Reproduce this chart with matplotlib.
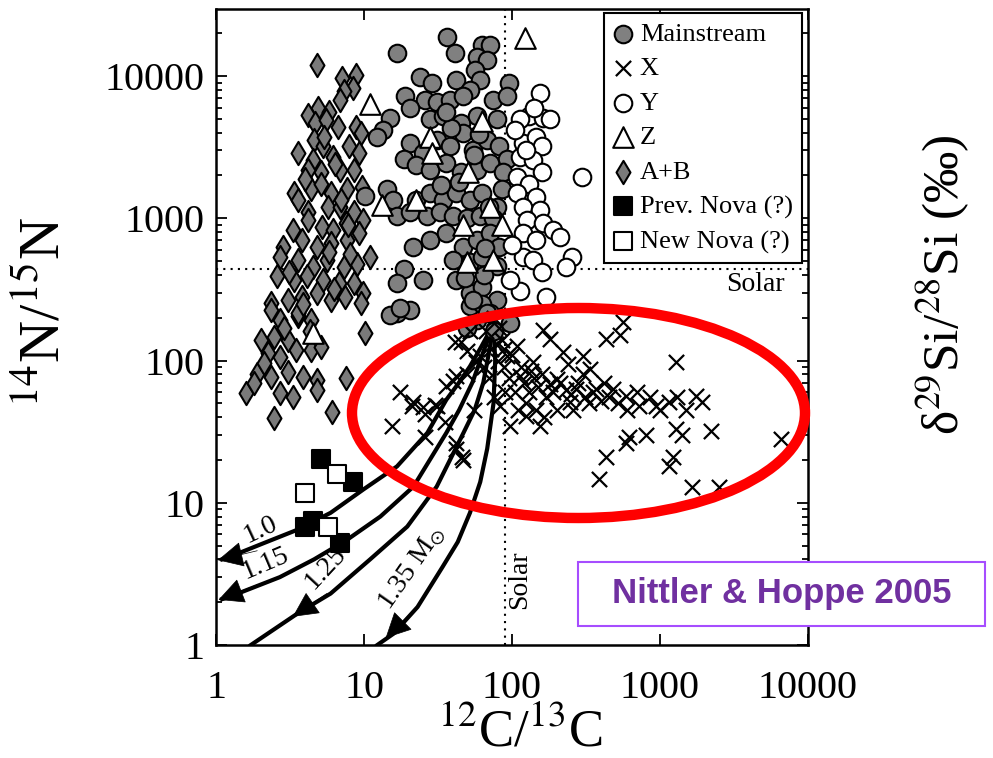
import matplotlib
matplotlib.use("Agg")
import matplotlib.pyplot as plt
from matplotlib.patches import Ellipse, Rectangle

plt.rcParams["font.family"] = ["Liberation Serif", "DejaVu Serif"]
plt.rcParams["mathtext.fontset"] = "stix"

# ---- data (12C/13C, 14N/15N) ----
MAIN_X = [36.3, 16.7, 41, 63, 71, 58, 68, 56, 24, 29, 42, 61, 52, 96, 19, 26, 20.5, 31, 38, 47,
          74, 92, 15, 13.5, 12.3, 28, 34, 45, 58, 79, 20.5, 25, 31, 38, 47, 54.5, 68, 82, 92, 18.5,
          22.6, 28, 36, 45, 58, 71, 87, 10.2, 14.3, 15.8, 22.6, 28, 34, 42, 52, 63, 79, 16.7, 20.5, 26.5,
          32.5, 40, 50, 61, 74, 21.5, 28, 36, 47, 58, 71, 82, 40, 52, 63, 79, 18.5, 16.7, 25, 42,
          52, 63, 58, 79, 71, 16.7, 20.5, 58, 15, 17.6, 52, 63, 97, 68, 54.5, 65, 75, 50,
          44, 55, 66, 39, 33, 60, 70, 85, 48, 36]
MAIN_Y = [18800, 14500, 14500, 16500, 16500, 13500, 13000, 11000, 9900, 9000, 9400, 9400, 8000, 9000, 7200, 6800, 6000, 6600, 6800, 7200,
          6800, 7200, 5100, 4200, 3700, 5000, 5200, 4700, 5200, 5000, 3400, 2900, 3550, 3200, 4000, 3000, 3550, 3200, 2600, 2600,
          2350, 2200, 2450, 2100, 2200, 2450, 2100, 1430, 1600, 1350, 1350, 1500, 1350, 1500, 1350, 1500, 1200, 1030, 1100, 1030,
          1100, 1030, 1000, 1030, 1000, 630, 700, 790, 630, 700, 790, 630, 510, 490, 530, 460, 440, 350, 370, 370,
          300, 330, 250, 265, 215, 215, 225, 193, 210, 235, 240, 250, 183, 215, 265, 400, 160, 170,
          1800, 2800, 620, 4300, 1700, 3900, 1200, 1600, 380, 5600]

Y_X = [154, 295, 131, 161, 180, 113, 119, 146, 160, 113, 139, 160, 108, 131, 146, 108, 119, 154, 126, 161,
       190, 119, 146, 210, 119, 139, 256, 232, 160, 113, 170, 97, 105, 125, 140, 100]
Y_Y = [7600, 1950, 5200, 5100, 5000, 5000, 3400, 3750, 3200, 2700, 2550, 2100, 1950, 1750, 1400, 1500, 1200, 1150, 980, 930,
       830, 790, 700, 740, 530, 510, 530, 455, 420, 310, 280, 370, 4200, 3000, 6000, 650]

Z_X = [122, 11, 13.3, 63, 28, 29, 50.5, 22.6, 71, 47, 86, 49.5, 74, 4.5]
Z_Y = [18500, 6400, 1240, 4800, 3750, 2900, 2100, 1350, 1200, 900, 900, 490, 510, 157]

AB_X = [4.85, 7.1, 8.8, 8.4, 7.3, 6.9, 4.9, 4.2, 5.8, 4.7, 5.5, 6.7, 8.8, 9.5, 3.6, 4.6, 5.3, 4.5, 6.2, 7.9,
        9.2, 5.1, 6.9, 8.5, 4.2, 3.35, 4.4, 5.1, 5.95, 7.7, 9.7, 3.6, 5.7, 4.2, 6.9, 8.5, 3.3, 4.2, 5.2, 6.2,
        7.5, 9.8, 2.85, 3.8, 4.85, 5.95, 7.7, 9.2, 11, 2.7, 3.6, 4.5, 5.6, 7.3, 9.0, 2.6, 3.35, 4.1, 5.3, 6.8,
        8.5, 9.9, 2.35, 3.05, 3.8, 4.8, 5.95, 7.4, 9.5, 2.7, 3.6, 4.4, 2.35, 3.6, 2.0, 2.45, 3.05, 2.25, 2.7, 3.45,
        4.4, 5.1, 1.9, 2.35, 3.05, 3.9, 4.85, 2.7, 3.3, 1.6, 2.45, 6.1, 7.5, 10.2, 1.8, 2.1, 4.85,
        5.4, 6.4, 7.0, 4.0, 8.0, 3.1, 5.8, 2.9, 4.3, 6.3, 3.9, 7.8]
AB_Y = [11900, 9700, 10100, 8200, 7900, 6800, 6000, 5300, 5600, 4700, 4900, 4400, 4400, 4000, 2900, 3550, 3200, 2550, 2700, 3200,
        2900, 2100, 2200, 2200, 2200, 1500, 1600, 1750, 1500, 1600, 1650, 1350, 1200, 1100, 1200, 1100, 830, 980, 870, 830,
        930, 980, 630, 700, 630, 670, 700, 790, 530, 530, 510, 455, 510, 455, 480, 390, 370, 390, 370, 350,
        350, 300, 255, 265, 280, 300, 265, 280, 255, 193, 205, 193, 225, 215, 140, 147, 140, 113, 106, 118,
        118, 124, 81, 77, 83, 77, 73, 59, 55, 59, 39.5, 43.5, 75, 156, 70, 96, 62,
        3700, 2400, 1350, 1900, 560, 420, 580, 170, 160, 320, 250, 900]

X_X = [15.5, 17.6, 21.6, 25, 30, 25.9, 35, 42, 46, 40, 41, 49.5, 57, 67, 83, 92, 97, 108, 113, 125,
       138, 155, 161, 180, 200, 220, 245, 270, 300, 335, 370, 435, 560, 535, 435, 390, 480, 590, 620, 590,
       725, 945, 1150, 1290, 1290, 1220, 1150, 1650, 1750, 1920, 2220, 2500, 6600,
       120, 130, 140, 150, 160, 170, 180, 190, 210, 230, 250, 280, 310, 350, 400, 115, 105, 95, 88, 80,
       100, 125, 145, 165, 200, 260, 330, 450, 520, 700, 850, 1000, 1300, 1400, 1500, 800, 85, 90, 110, 135,
       240, 300, 420, 600, 31, 36, 42, 45, 52, 61, 42, 47, 26, 21, 72, 65, 70, 55, 50, 75, 78, 82, 88, 75]
X_Y = [34.5, 60, 51, 47, 49, 29, 37, 26.5, 21, 72, 135, 117, 98, 160, 48, 107, 34.5, 126, 78, 40.5,
       98, 34.5, 165, 142, 74, 115, 51, 63, 107, 87, 63, 142, 187, 150, 21, 14.6, 63, 56, 29, 26.5,
       48, 48, 51, 98, 33, 21, 18, 13, 56, 51, 31.7, 13, 28,
       70, 60, 75, 65, 80, 55, 68, 60, 70, 62, 58, 70, 55, 60, 52, 90, 60, 75, 90, 100,
       110, 50, 45, 40, 45, 45, 50, 55, 50, 60, 55, 45, 55, 30, 45, 30, 140, 60, 45, 85,
       95, 80, 70, 45, 48, 66, 78, 135, 160, 107, 24, 20, 42, 48, 120, 90, 75, 45, 80, 55, 130, 170, 120, 200]

PREV_X = [5.1, 8.4, 4.0, 4.5, 6.9]
PREV_Y = [20.2, 13.9, 6.8, 7.4, 5.2]
NEW_X = [6.6, 4.0, 5.7]
NEW_Y = [16, 11.8, 6.8]

# nova mixing curves (solar masses)
C10_X = [75, 62, 52, 43, 36, 26.8, 16.7, 9.9, 5.95, 3.6, 2.1, 1.26, 1.1]
C10_Y = [180, 125, 91, 68, 53, 31, 18, 12.4, 8.5, 6.5, 5.2, 4.2, 4.0]
C115_X = [75, 63, 54, 44, 36, 21.6, 12.9, 7.7, 4.6, 2.7, 1.26, 1.1]
C115_Y = [180, 110, 70, 45, 31, 13, 8, 5.5, 4, 3, 2.2, 2.1]
C125_X = [75, 70, 64, 56, 47, 31, 19.6, 11, 5.95, 3.6, 1.72]
C125_Y = [180, 115, 70, 45, 31, 13, 6.8, 4, 2.3, 1.68, 1.0]
C135_X = [75, 77, 75, 68, 61, 52, 43, 34, 23, 15.8, 12.3]
C135_Y = [180, 100, 50, 24, 14, 8.5, 5.3, 3.55, 1.85, 1.2, 1.0]

SOLAR_C = 89
SOLAR_N = 441

XTICKS = [1, 10, 100, 1000, 10000]
XLABELS = ["1", "10", "100", "1000", "10000"]
YTICKS = [1, 10, 100, 1000, 10000]
YLABELS = ["1", "10", "100", "1000", "10000"]

fig = plt.figure(figsize=(9.93, 7.58), dpi=100)
ax = fig.add_axes([216 / 993, 1 - 645 / 758, 592 / 993, 636 / 758])
ax.set_xscale("log")
ax.set_yscale("log")
ax.set_xlim(1, 10000)
ax.set_ylim(1, 29600)

# solar reference lines
ax.axvline(SOLAR_C, color="black", lw=1.5, ls=(0, (1, 2.5)), zorder=1)
ax.axhline(SOLAR_N, color="black", lw=1.5, ls=(0, (1, 2.5)), zorder=1)

# mixing curves with arrow heads
for cx, cy in [(C10_X, C10_Y), (C115_X, C115_Y), (C125_X, C125_Y), (C135_X, C135_Y)]:
    ax.plot(cx, cy, color="black", lw=3, zorder=2, solid_joinstyle="round")
arrow = dict(arrowstyle="-|>", mutation_scale=42, color="black", lw=0.5, shrinkA=0, shrinkB=0)
ax.annotate("", xy=(1.03, 3.95), xytext=(1.9, 4.6), arrowprops=arrow, zorder=3)
ax.annotate("", xy=(1.04, 2.08), xytext=(1.9, 2.65), arrowprops=arrow, zorder=3)
ax.annotate("", xy=(3.3, 1.58), xytext=(5.6, 2.3), arrowprops=arrow, zorder=3)
ax.annotate("", xy=(14.0, 1.12), xytext=(21, 1.7), arrowprops=arrow, zorder=3)

kw = dict(edgecolors="black", linewidths=1.5)
ax.scatter(AB_X, AB_Y, marker="d", s=140, c="#7a7a7a", label="A+B", zorder=4, **kw)
ax.scatter(MAIN_X, MAIN_Y, marker="o", s=160, c="#808080", label="Mainstream", zorder=4, **kw)
ax.scatter(Y_X, Y_Y, marker="o", s=160, c="white", label="Y", zorder=4, **kw)
ax.scatter(Z_X, Z_Y, marker="^", s=220, c="white", label="Z", zorder=5, **kw)
ax.scatter(X_X, X_Y, marker="x", s=120, c="black", linewidths=1.6, label="X", zorder=5)
ax.scatter(PREV_X, PREV_Y, marker="s", s=170, c="black", label="Prev. Nova (?)", zorder=5, **kw)
ax.scatter(NEW_X, NEW_Y, marker="s", s=170, c="white", label="New Nova (?)", zorder=5, **kw)

# curve labels
lab = dict(fontsize=20, ha="center", va="center", zorder=6)
ax.text(2.0, 6.5, "1.0", rotation=25, **lab)
ax.text(2.15, 3.75, "1.15", rotation=23, **lab)
ax.text(5.5, 3.5, "1.25", rotation=47, **lab)
ax.text(21, 3.5, r"1.35 M$_{\odot}$", rotation=55, **lab)
ax.text(7000, 340, "Solar", fontsize=20, ha="right", va="center")
ax.text(112, 2.9, "Solar", fontsize=20, rotation=90, ha="center", va="center")

# legend
handles, labels = ax.get_legend_handles_labels()
order = ["Mainstream", "X", "Y", "Z", "A+B", "Prev. Nova (?)", "New Nova (?)"]
hmap = dict(zip(labels, handles))
leg = ax.legend([hmap[k] for k in order], order, loc="upper right", bbox_to_anchor=(0.99, 0.994),
                borderaxespad=0, fontsize=19, frameon=True, fancybox=False, framealpha=1,
                edgecolor="black", handlelength=0.7, handletextpad=0.3, labelspacing=0.42,
                borderpad=0.35, scatterpoints=1)
leg.get_frame().set_linewidth(1.5)
leg.set_zorder(10)

ax.set_xticks(XTICKS, labels=XLABELS)
ax.set_yticks(YTICKS, labels=YLABELS)
ax.tick_params(which="both", direction="in", top=True, right=True, width=1.3)
ax.tick_params(which="major", length=8, labelsize=29)
ax.tick_params(which="minor", length=4.5)
ax.tick_params(axis="y", which="major", pad=8)
ax.tick_params(axis="x", which="major", pad=18)
for sp in ax.spines.values():
    sp.set_linewidth(1.8)

fig.text(45 / 993, 1 - 312 / 758, r"$^{14}$N/$^{15}$N", fontsize=42, rotation=90, ha="center", va="center")
fig.text(520 / 993, 1 - 733 / 758, r"$^{12}$C/$^{13}$C", fontsize=38, ha="center", va="center")
fig.text(943 / 993, 1 - 285 / 758, r"δ$^{29}$Si/$^{28}$Si (‰)", fontsize=37, rotation=90, ha="center", va="center")

# red highlight ellipse
fig.add_artist(Ellipse((578.5 / 993, 1 - 413 / 758), 453 / 993, 210 / 758, transform=fig.transFigure,
                       fill=False, ec="#ff0000", lw=7.5, zorder=20))

# citation box
fig.add_artist(Rectangle((578 / 993, 1 - 626 / 758), 407 / 993, 64 / 758, transform=fig.transFigure,
                         fc="white", ec="#a64dff", lw=1.5, zorder=20))
fig.text(781.5 / 993, 1 - 594 / 758, "Nittler & Hoppe 2005", fontsize=25, fontweight="bold",
         family="Liberation Sans", color="#7030a0", ha="center", va="center", zorder=21)

fig.savefig("out.png", dpi=100)
